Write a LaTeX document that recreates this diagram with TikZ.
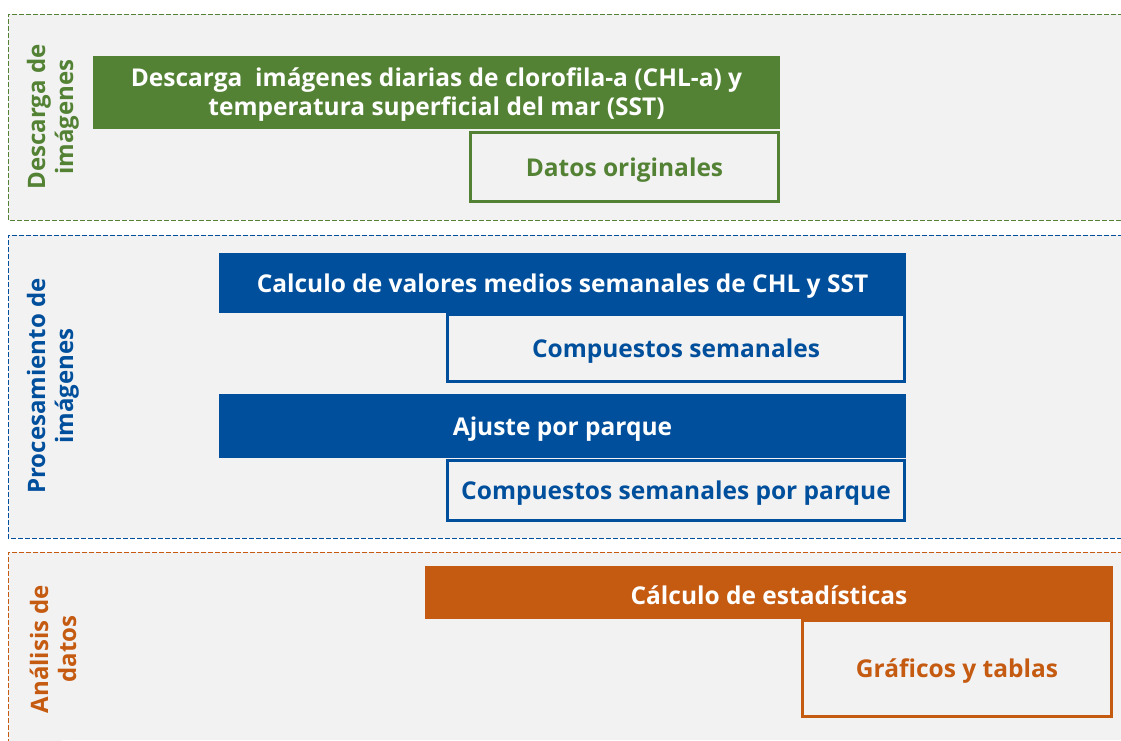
\documentclass[tikz,border=0pt]{standalone}
\usepackage{fontspec}
\setmainfont{Open Sans}
\definecolor{cgreen}{HTML}{548235}
\definecolor{cblue}{HTML}{004F9C}
\definecolor{corange}{HTML}{C55A11}
\definecolor{cbg}{HTML}{F2F2F2}
\tikzset{
  band/.style={fill=cbg, line width=1pt, dash pattern=on 5pt off 2pt},
  boxtext/.style={font=\bfseries\fontsize{24.5}{29}\selectfont, align=center, inner sep=0pt, yshift=-3pt},
  solidbox/.style={fill=#1, draw=none, inner sep=0pt},
  outbox/.style={fill=cbg, draw=#1, line width=3pt, inner sep=0pt},
  sidelabel/.style={text=#1, rotate=90, font=\bfseries\fontsize{24}{28}\selectfont, align=center, inner sep=0pt}
}
\begin{document}
\begin{tikzpicture}[x=1pt,y=-1pt]
\useasboundingbox (0,0) rectangle (1121,740);
\fill[white] (0,0) rectangle (1121,740);
% bands
\draw[band, draw=cgreen] (1130,14) -- (8,14) -- (8,220) -- (1130,220);
\draw[band, draw=cblue] (1130,235) -- (8,235) -- (8,538) -- (1130,538);
\fill[cbg] (8.5,552.5) rectangle (1121,740);
\draw[band, draw=corange] (1130,552) -- (8,552) -- (8,750);
% side labels
\node[sidelabel=cgreen] (l1) at (53,117) {Descarga de\\imágenes};
\node[sidelabel=cblue] (l2) at (53,386) {Procesamiento de\\imágenes};
\node[sidelabel=corange] (l3) at (53,649) {Análisis de\\datos};
% green
\node[solidbox=cgreen, minimum width=687pt, minimum height=73pt,
  label={[boxtext, text=white, yshift=1pt]center:{Descarga\ \ imágenes diarias de clorofila-a (CHL-a) y\\temperatura superficial del mar (SST)}}] (g1) at (436.5,92.5) {};
\node[outbox=cgreen, minimum width=308pt, minimum height=69pt,
  label={[boxtext, text=cgreen]center:Datos originales}] (g2) at (624.5,167) {};
% blue
\node[solidbox=cblue, minimum width=687pt, minimum height=60pt,
  label={[boxtext, text=white]center:Calculo de valores medios semanales de CHL y SST}] (b1) at (562.5,283) {};
\node[outbox=cblue, minimum width=457pt, minimum height=67pt,
  label={[boxtext, text=cblue]center:Compuestos semanales}] (b2) at (676,348) {};
\node[solidbox=cblue, minimum width=687pt, minimum height=64pt,
  label={[boxtext, text=white]center:Ajuste por parque}] (b3) at (562.5,426) {};
\node[outbox=cblue, minimum width=457pt, minimum height=60pt,
  label={[boxtext, text=cblue]center:Compuestos semanales por parque}] (b4) at (676,490) {};
% orange
\node[solidbox=corange, minimum width=688pt, minimum height=53pt,
  label={[boxtext, text=white]center:Cálculo de estadísticas}] (o1) at (769,592.5) {};
\node[outbox=corange, minimum width=309pt, minimum height=96pt,
  label={[boxtext, text=corange]center:Gráficos y tablas}] (o2) at (957,668.5) {};
\end{tikzpicture}
\end{document}
